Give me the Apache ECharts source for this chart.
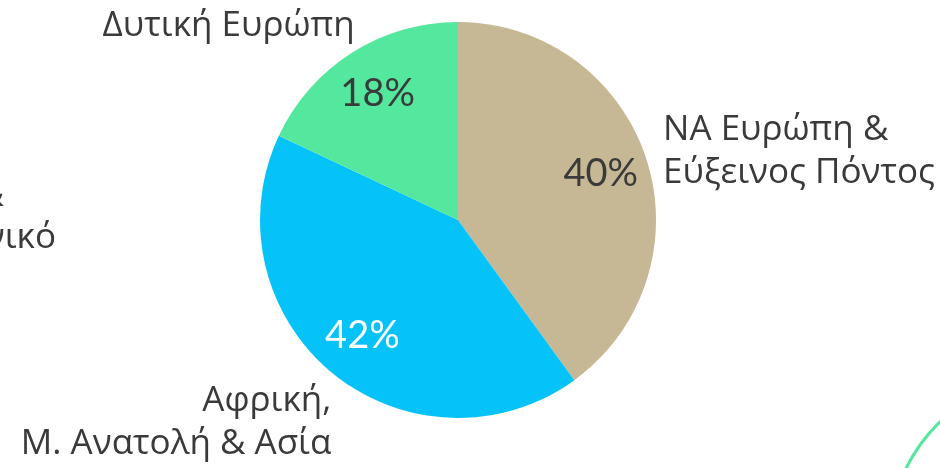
<!DOCTYPE html>
<html>
<head>
<meta charset="utf-8">
<script src="https://cdn.jsdelivr.net/npm/echarts@6/dist/echarts.min.js"></script>
<style>
html, body { margin: 0; background: #fff; }
#pie { width: 940px; height: 468px; }
</style>
</head>
<body>
<div id="pie"></div>
<script>
const regions = ['ΝΑ Ευρώπη &\nΕύξεινος Πόντος', 'Αφρική,\nΜ. Ανατολή & Ασία', 'Δυτική Ευρώπη']
const shares = [40, 42, 18]
const colors = ['#C6B894', '#05C3F9', '#53E89D']
const pctColors = ['#3a3a3a', '#ffffff', '#3a3a3a']
// where the outer names sit (hidden label line length, gap to text)
const lineLen = [25, 65, 32]
const labelGap = [-7, -41, -20]

const chart = echarts.init(document.getElementById('pie'))
const textColor = '#3a3a3a'
const nameFont = '35px "Open Sans"'

const option = {
  animation: false,
  color: colors,
  graphic: [
    {
      type: 'circle',
      shape: { cx: 1060, cy: 545, r: 172 },
      style: { fill: 'none', stroke: '#53E89D', lineWidth: 3 },
      silent: true
    },
    // label of a neighbour chart, cut by the frame
    {
      type: 'text',
      x: 4, y: 196,
      style: { text: 'Ασία &', align: 'right', verticalAlign: 'middle', font: nameFont, fill: textColor }
    },
    {
      type: 'text',
      x: 56, y: 238,
      style: { text: 'Ειρηνικό', align: 'right', verticalAlign: 'middle', font: nameFont, fill: textColor }
    }
  ],
  series: [
    {
      name: 'names',
      type: 'pie',
      center: [458, 220],
      radius: 198,
      startAngle: 90,
      clockwise: true,
      avoidLabelOverlap: false,
      silent: true,
      label: {
        position: 'outside',
        formatter: '{b}',
        fontFamily: 'Open Sans',
        fontSize: 35,
        lineHeight: 43,
        color: textColor,
        overflow: 'none',
        bleedMargin: 0
      },
      labelLine: { show: false },
      emphasis: { disabled: true },
      data: regions.map((name, i) => ({
        name: name,
        value: shares[i],
        labelLine: { show: false, length: lineLen[i], length2: 0 },
        label: { distanceToLabelLine: labelGap[i] }
      }))
    },
    {
      name: 'shares',
      type: 'pie',
      center: [458, 220],
      radius: [96, 198],
      startAngle: 90,
      clockwise: true,
      silent: true,
      z: 3,
      itemStyle: { color: 'rgba(0,0,0,0)', borderWidth: 0 },
      label: {
        position: 'inside',
        formatter: '{c}%',
        fontFamily: 'Lato',
        fontWeight: 400,
        fontSize: 38
      },
      labelLine: { show: false },
      emphasis: { disabled: true },
      data: shares.map((v, i) => ({
        name: regions[i],
        value: v,
        label: { color: pctColors[i] }
      }))
    }
  ]
}
chart.setOption(option)
</script>
</body>
</html>
